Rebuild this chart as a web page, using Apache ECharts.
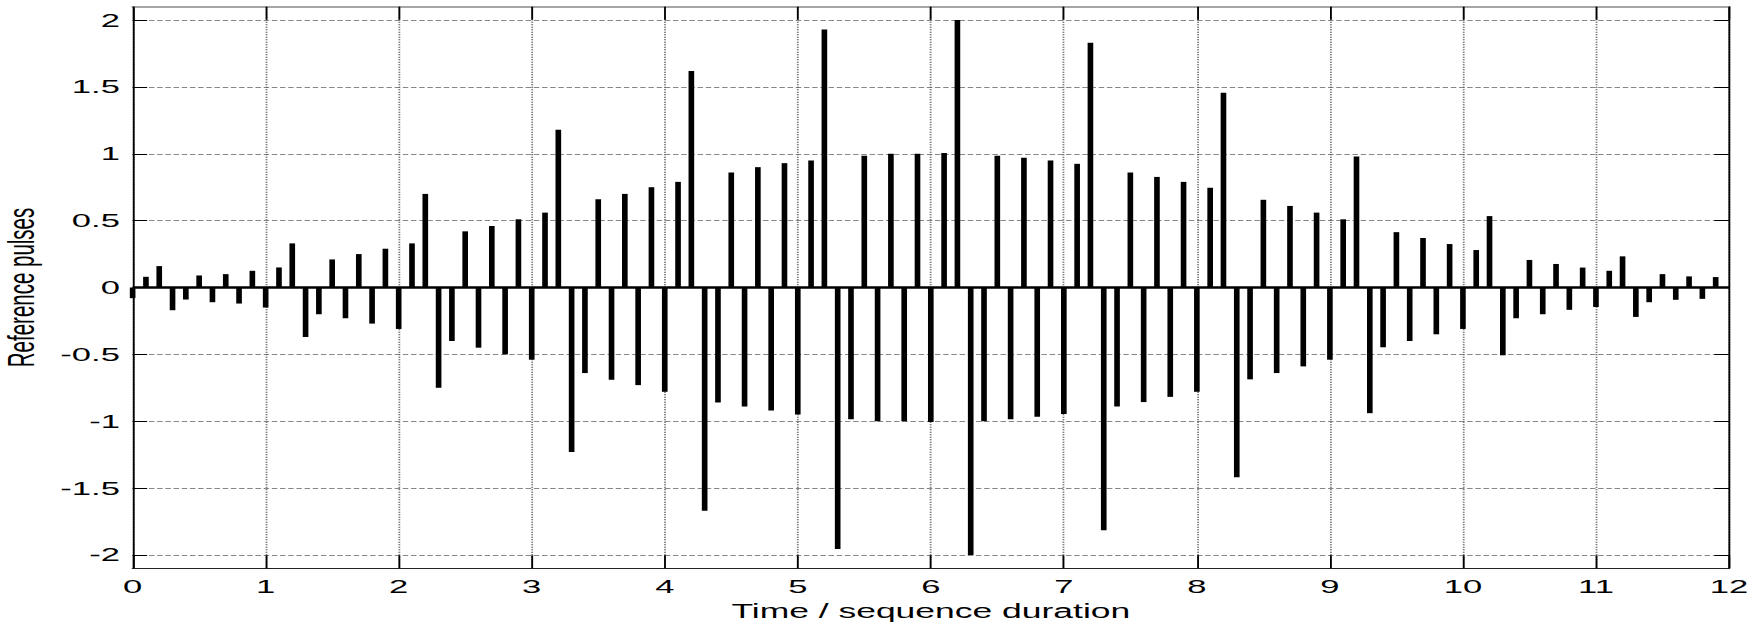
<!DOCTYPE html>
<html>
<head>
<meta charset="utf-8">
<script src="https://cdn.jsdelivr.net/npm/echarts/dist/echarts.min.js"></script>
<style>
  html, body { margin: 0; padding: 0; background: #fff; overflow: hidden; }
  #chart { position: absolute; left: 0; top: 0; width: 969px; height: 625px; transform-origin: 0 0; }
</style>
</head>
<body>
<div id="chart"></div>
<script>
// Sample times (sequence durations)
const times = [
  0.0, 0.1, 0.2, 0.3, 0.4, 0.5, 0.6, 0.7, 0.8, 0.9,
  1.0, 1.1, 1.2, 1.3, 1.4, 1.5, 1.6, 1.7, 1.8, 1.9,
  2.0, 2.1, 2.2, 2.3, 2.4, 2.5, 2.6, 2.7, 2.8, 2.9,
  3.0, 3.1, 3.2, 3.3, 3.4, 3.5, 3.6, 3.7, 3.8, 3.9,
  4.0, 4.1, 4.2, 4.3, 4.4, 4.5, 4.6, 4.7, 4.8, 4.9,
  5.0, 5.1, 5.2, 5.3, 5.4, 5.5, 5.6, 5.7, 5.8, 5.9,
  6.0, 6.1, 6.2, 6.3, 6.4, 6.5, 6.6, 6.7, 6.8, 6.9,
  7.0, 7.1, 7.2, 7.3, 7.4, 7.5, 7.6, 7.7, 7.8, 7.9,
  8.0, 8.1, 8.2, 8.3, 8.4, 8.5, 8.6, 8.7, 8.8, 8.9,
  9.0, 9.1, 9.2, 9.3, 9.4, 9.5, 9.6, 9.7, 9.8, 9.9,
  10.0, 10.1, 10.2, 10.3, 10.4, 10.5, 10.6, 10.7, 10.8, 10.9,
  11.0, 11.1, 11.2, 11.3, 11.4, 11.5, 11.6, 11.7, 11.8, 11.9
];

// Reference pulse amplitudes
const pulses = [
  -0.08, 0.08, 0.16, -0.17, -0.09, 0.09, -0.11, 0.10, -0.12, 0.125,
  -0.15, 0.15, 0.33, -0.37, -0.20, 0.21, -0.23, 0.25, -0.27, 0.29,
  -0.31, 0.33, 0.70, -0.75, -0.40, 0.42, -0.45, 0.46, -0.50, 0.51,
  -0.54, 0.56, 1.18, -1.23, -0.64, 0.66, -0.69, 0.70, -0.73, 0.75,
  -0.78, 0.79, 1.62, -1.67, -0.86, 0.86, -0.89, 0.90, -0.92, 0.93,
  -0.95, 0.95, 1.93, -1.955, -0.985, 0.985, -1.0, 1.0, -1.0, 1.0,
  -1.005, 1.005, 2.0, -2.0, -1.0, 0.985, -0.985, 0.97, -0.967, 0.95,
  -0.946, 0.925, 1.83, -1.815, -0.89, 0.86, -0.857, 0.827, -0.818, 0.79,
  -0.78, 0.746, 1.457, -1.42, -0.687, 0.656, -0.64, 0.61, -0.59, 0.56,
  -0.54, 0.51, 0.98, -0.94, -0.447, 0.414, -0.40, 0.37, -0.35, 0.325,
  -0.31, 0.28, 0.534, -0.507, -0.23, 0.206, -0.20, 0.176, -0.167, 0.149,
  -0.146, 0.125, 0.233, -0.22, -0.11, 0.10, -0.092, 0.083, -0.085, 0.078
];

const yTicks = [-2, -1.5, -1, -0.5, 0, 0.5, 1, 1.5, 2];
const xLabel = 'Time / sequence duration';
const yLabel = 'Reference pulses';

// The reference figure is stretched horizontally; draw at natural width and stretch.
const W0 = 969;
const S = 1763 / W0;
const dom = document.getElementById('chart');
dom.style.transform = 'scaleX(' + S + ')';

const FONT = 'Liberation Sans, Arial, Helvetica, sans-serif';

const chart = echarts.init(dom, null, { renderer: 'svg', width: W0, height: 625 });

const option = {
  animation: false,
  backgroundColor: '#fff',
  grid: { left: 72.9, right: 18.7, top: 6.7, bottom: 56.7, containLabel: false, outerBoundsMode: 'none' },
  xAxis: [
    {
      type: 'value', min: 0, max: 12, interval: 1, position: 'bottom',
      name: xLabel, nameLocation: 'middle', nameGap: 32,
      nameTextStyle: { fontFamily: FONT, fontSize: 19.5, color: '#000' },
      axisLine: { show: true, onZero: false, lineStyle: { color: '#222', width: 1.2 } },
      axisTick: { show: true, inside: true, length: 13, lineStyle: { color: '#000', width: 1 } },
      axisLabel: { show: true, fontFamily: FONT, fontSize: 19, color: '#000', margin: 9 },
      splitLine: { show: true, lineStyle: { type: [1, 1.5], color: '#555', width: 1 } }
    },
    {
      type: 'value', min: 0, max: 12, interval: 1, position: 'top',
      axisLine: { show: true, onZero: false, lineStyle: { color: '#888', width: 1.5 } },
      axisTick: { show: true, inside: true, length: 13, lineStyle: { color: '#000', width: 1 } },
      axisLabel: { show: false },
      splitLine: { show: false }
    }
  ],
  yAxis: [
    {
      type: 'value', min: -2.1, max: 2.1, position: 'left',
      name: yLabel, nameLocation: 'middle', nameGap: 47, nameRotate: 90,
      nameTextStyle: { fontFamily: FONT, fontSize: 20.5, color: '#000' },
      axisLine: { show: true, onZero: false, lineStyle: { color: '#000', width: 1 } },
      axisTick: { show: true, inside: true, length: 8, customValues: yTicks, lineStyle: { color: '#000', width: 1 } },
      axisLabel: {
        show: true, customValues: yTicks, fontFamily: FONT, fontSize: 19, color: '#000', margin: 7,
        formatter: v => String(v)
      },
      splitLine: { show: true, lineStyle: { type: [3, 1.5], color: '#888', width: 1 } }
    },
    {
      type: 'value', min: -2.1, max: 2.1, position: 'right',
      axisLine: { show: true, onZero: false, lineStyle: { color: '#000', width: 1 } },
      axisTick: { show: true, inside: true, length: 8, customValues: yTicks, lineStyle: { color: '#000', width: 1 } },
      axisLabel: { show: false },
      splitLine: { show: false }
    }
  ],
  series: [
    {
      type: 'bar',
      xAxisIndex: 0, yAxisIndex: 0,
      barWidth: 3.1,
      itemStyle: { color: '#000' },
      data: times.map((t, i) => [t, pulses[i]]),
      markLine: {
        silent: true, symbol: 'none', animation: false,
        label: { show: false },
        lineStyle: { color: '#000', width: 2.5, type: 'solid' },
        data: [{ yAxis: 0 }]
      }
    }
  ]
};

chart.setOption(option);
</script>
</body>
</html>
